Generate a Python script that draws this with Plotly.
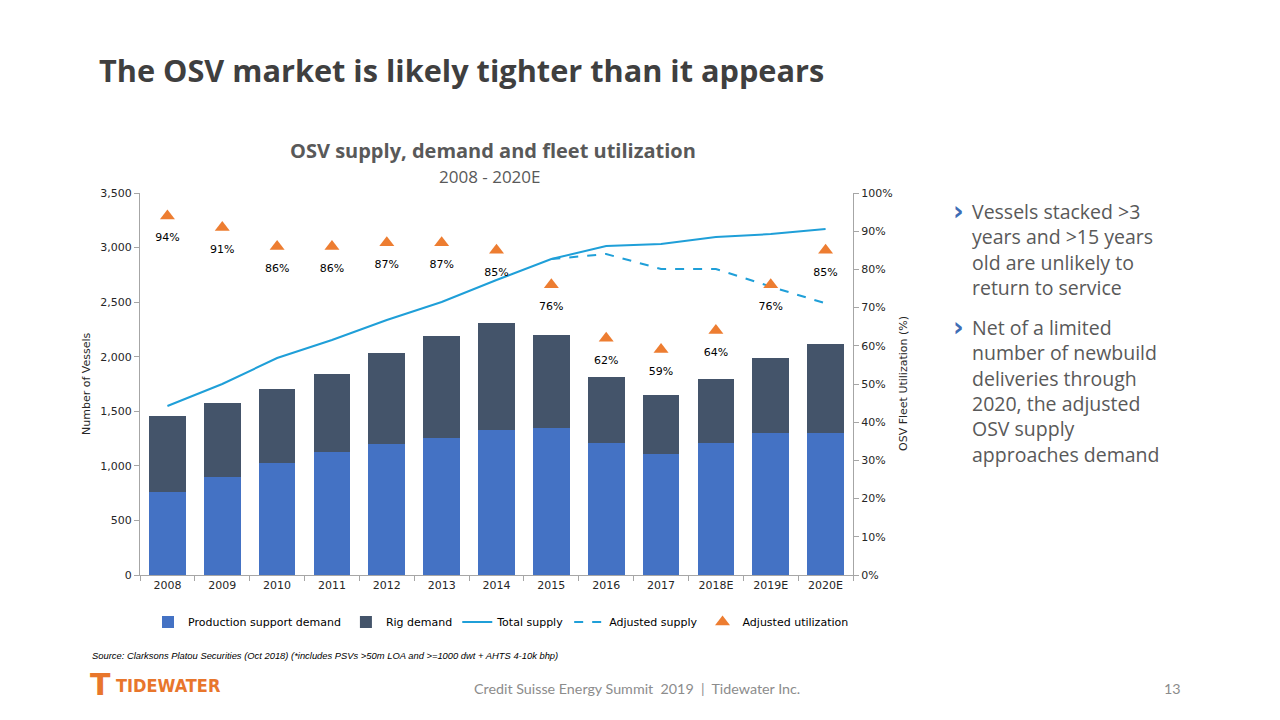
import plotly.graph_objects as go

years = ["2008", "2009", "2010", "2011", "2012", "2013", "2014", "2015", "2016", "2017", "2018E", "2019E", "2020E"]
production_support = [760, 898, 1026, 1127, 1200, 1255, 1329, 1347, 1209, 1109, 1209, 1301, 1301]
total_demand = [1457, 1576, 1704, 1842, 2034, 2190, 2309, 2199, 1814, 1649, 1796, 1988, 2117]
rig_demand = [t - p for t, p in zip(total_demand, production_support)]
total_supply = [1548, 1750, 1988, 2153, 2336, 2501, 2703, 2895, 3014, 3033, 3097, 3124, 3170]
adj_years = ["2015", "2016", "2017", "2018E", "2019E", "2020E"]
adjusted_supply = [2895, 2941, 2804, 2804, 2642, 2489]
utilization = [0.94, 0.91, 0.86, 0.86, 0.87, 0.87, 0.85, 0.76, 0.62, 0.59, 0.64, 0.76, 0.85]
util_labels = [f"{round(u*100)}%" for u in utilization]

L, R, T, B = 140, 853, 193, 575
W, H = 1280, 720

def px(x):
    return (x - L) / (R - L)

def py(y):
    return (B - y) / (B - T)

AX_FONT = dict(family="DejaVu Sans", size=11, color="#262626")

fig = go.Figure()
fig.add_trace(go.Bar(x=years, y=production_support, name="Production support demand",
                     marker_color="#4472C4", marker_line_width=0))
fig.add_trace(go.Bar(x=years, y=rig_demand, name="Rig demand", marker_color="#44546A",
                     marker_line_width=0))
fig.add_trace(go.Scatter(x=years, y=total_supply, name="Total supply", mode="lines",
                         line=dict(color="#1F9FD8", width=2)))
fig.add_trace(go.Scatter(x=adj_years, y=adjusted_supply, name="Adjusted supply", mode="lines",
                         line=dict(color="#1F9FD8", width=2, dash="dash")))
fig.add_trace(go.Scatter(x=years, y=utilization, name="Adjusted utilization", mode="markers",
                         yaxis="y2", marker=dict(symbol="triangle-up", size=13, color="#ED7D31")))
fig.add_trace(go.Scatter(x=years, y=utilization, name="labels", mode="markers+text",
                         yaxis="y2", showlegend=False, hoverinfo="skip",
                         marker=dict(size=26, color="rgba(0,0,0,0)"),
                         text=util_labels, textposition="bottom center",
                         textfont=dict(family="DejaVu Sans", size=11, color="#000000")))

fig.update_layout(
    width=W, height=H,
    paper_bgcolor="white", plot_bgcolor="white",
    margin=dict(l=L, r=W - R, t=T, b=H - B, pad=0),
    barmode="stack", bargap=0.33,
    showlegend=True,
    legend=dict(orientation="h", x=px(148), y=py(622), xanchor="left", yanchor="middle",
                traceorder="normal",
                font=dict(family="DejaVu Sans", size=11, color="#000000"),
                itemwidth=30, tracegroupgap=0, bgcolor="rgba(0,0,0,0)"),
    xaxis=dict(type="category", range=[-0.5, len(years) - 0.5], showgrid=False, showline=True,
               linecolor="#A6A6A6", ticks="outside", tickson="boundaries", ticklen=5,
               tickcolor="#A6A6A6", tickfont=AX_FONT, zeroline=False, tickangle=0),
    yaxis=dict(range=[0, 3500], dtick=500, tickformat=",", showgrid=False, showline=True,
               linecolor="#A6A6A6", ticks="outside", ticklen=5, tickcolor="#A6A6A6",
               tickfont=AX_FONT, zeroline=False),
    yaxis2=dict(range=[0, 1], dtick=0.1, tickformat=".0%", overlaying="y", side="right",
                showgrid=False, showline=True, linecolor="#A6A6A6", ticks="outside",
                ticklen=5, tickcolor="#A6A6A6", tickfont=AX_FONT, zeroline=False),
)

ann = []

def add(x, y, text, size, color, family="Open Sans", xanchor="left", angle=0, yanchor="middle"):
    ann.append(dict(x=px(x), y=py(y), xref="paper", yref="paper", text=text, showarrow=False,
                    xanchor=xanchor, yanchor=yanchor, textangle=angle, align="left",
                    font=dict(family=family, size=size, color=color)))

add(97, 70, "<b>The OSV market is likely tighter than it appears</b>", 30.7, "#3F3F3F")
add(493, 151, "<b>OSV supply, demand and fleet utilization</b>", 20, "#595959", xanchor="center")
add(490, 176, "2008 - 2020E", 17, "#595959", xanchor="center")
add(86, 384, "Number of Vessels", 11, "#262626", family="DejaVu Sans", xanchor="center", angle=-90)
add(903, 384, "OSV Fleet Utilization (%)", 11, "#262626", family="DejaVu Sans", xanchor="center", angle=-90)
add(90, 655, "<i>Source: Clarksons Platou Securities (Oct 2018) (*includes PSVs >50m LOA and >=1000 dwt + AHTS 4-10k bhp)</i>",
    9.4, "#000000", family="Liberation Sans Narrow, Liberation Sans")
add(637, 688, "Credit Suisse Energy Summit  2019  |  Tidewater Inc.", 14.3, "#8C8C8C", family="Lato", xanchor="center")
add(1183, 688, "13", 14.3, "#8C8C8C", family="Lato", xanchor="right")
add(114, 685, "<b>TIDEWATER</b>", 18, "#E8762C", family="DejaVu Sans Condensed, DejaVu Sans")
add(88, 684, "<b>T</b>", 30, "#E8762C", family="DejaVu Sans")

bullets = [
    (212, ["Vessels stacked >3", "years and >15 years", "old are unlikely to", "return to service"]),
    (328, ["Net of a limited", "number of newbuild", "deliveries through", "2020, the adjusted", "OSV supply", "approaches demand"]),
]
for y0, lines in bullets:
    add(951, y0 - 1, "<b>›</b>", 26, "#3E6DB5", family="DejaVu Sans")
    add(970, y0 - 16, "<br>".join(lines), 19.5, "#595959", yanchor="top")

fig.update_layout(annotations=ann)
fig.write_html("out.html")
